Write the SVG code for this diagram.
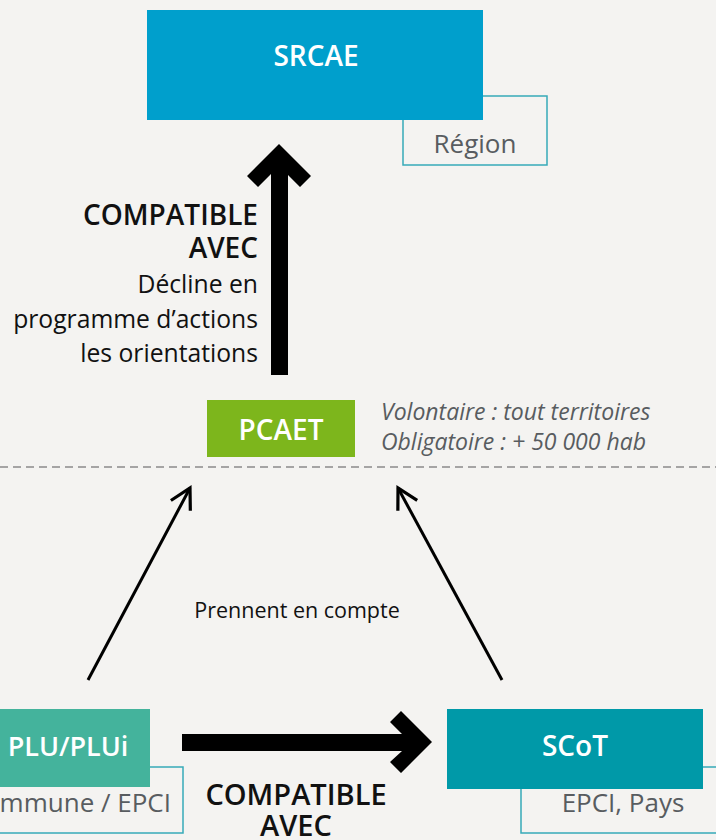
<svg xmlns="http://www.w3.org/2000/svg" width="716" height="840" viewBox="0 0 716 840">
<defs>
<style>
.bg{fill:#f4f3f1}
.lbl{font-family:"Open Sans","Liberation Sans",sans-serif;font-weight:600;fill:#ffffff;text-anchor:middle}
.sub{font-family:"Open Sans","Liberation Sans",sans-serif;fill:#585c60;text-anchor:middle}
.out{fill:none;stroke:#36aab8;stroke-width:1.5}
.txt{font-family:"Open Sans","Liberation Sans",sans-serif;fill:#111111}
.bold{font-weight:600}
.ital{font-family:"Open Sans","Liberation Sans",sans-serif;font-style:italic;fill:#585c60}
.thin{fill:none;stroke:#000;stroke-width:3}
</style>
<marker id="open" markerUnits="userSpaceOnUse" markerWidth="30" markerHeight="30" viewBox="-24 -15 30 30" refX="0" refY="0" orient="auto">
<path d="M -20 -11 L 0 0 L -20 11" fill="none" stroke="#000" stroke-width="3.2"/>
</marker>
</defs>
<rect class="bg" x="0" y="0" width="716" height="840"/>
<line x1="0" y1="467" x2="716" y2="467" stroke="#8a8a8a" stroke-width="1.3" stroke-dasharray="8 5"/>

<g id="srcae">
<rect class="out" x="403" y="96" width="144" height="69"/>
<rect x="147" y="10" width="336" height="110" fill="#009fcc"/>
<text class="lbl" x="316" y="66" font-size="28">SRCAE</text>
<text class="sub" x="475" y="153" font-size="26">Région</text>
</g>

<g id="pcaet">
<rect x="207" y="400" width="148" height="57" fill="#7db61c"/>
<text class="lbl" x="281" y="440" font-size="28">PCAET</text>
<text class="ital" x="381" y="420" font-size="23">Volontaire : tout territoires</text>
<text class="ital" x="381" y="450" font-size="23">Obligatoire : + 50 000 hab</text>
</g>

<g id="plu">
<rect class="out" x="-5" y="767" width="188" height="66"/>
<rect x="0" y="709" width="150" height="78" fill="#44b39c"/>
<text class="lbl" x="68" y="756" font-size="27">PLU/PLUi</text>
<text class="sub" x="171" y="812" font-size="26" style="text-anchor:end">Commune / EPCI</text>
</g>

<g id="scot">
<rect class="out" x="521" y="767" width="200" height="66"/>
<rect x="447" y="709" width="256" height="80" fill="#0099a8"/>
<text class="lbl" x="575" y="756" font-size="28">SCoT</text>
<text class="sub" x="623" y="812" font-size="26">EPCI, Pays</text>
</g>

<g id="connectors">
<polygon points="279,144 311,176 300,187 288,175 288,375 271,375 271,174 258,187 247,176" fill="#000"/>
<polygon points="432,742 401,711 390,722 402,734 182,734 182,751 402,751 390,762 401,773" fill="#000"/>
<line class="thin" x1="88" y1="680" x2="190" y2="488" marker-end="url(#open)"/>
<line class="thin" x1="502" y1="680" x2="398" y2="488" marker-end="url(#open)"/>
</g>

<g id="labels">
<text class="txt bold" x="258" y="225" font-size="28" text-anchor="end">COMPATIBLE</text>
<text class="txt bold" x="258" y="258" font-size="28" text-anchor="end">AVEC</text>
<text class="txt" x="258" y="293" font-size="24.7" text-anchor="end">Décline en</text>
<text class="txt" x="258" y="328" font-size="24.7" text-anchor="end">programme d’actions</text>
<text class="txt" x="258" y="362" font-size="24.7" text-anchor="end">les orientations</text>
<text class="txt" x="297" y="618" font-size="21.5" text-anchor="middle">Prennent en compte</text>
<text class="txt bold" x="296" y="805" font-size="29" text-anchor="middle">COMPATIBLE</text>
<text class="txt bold" x="296" y="836" font-size="29" text-anchor="middle">AVEC</text>
</g>
</svg>
